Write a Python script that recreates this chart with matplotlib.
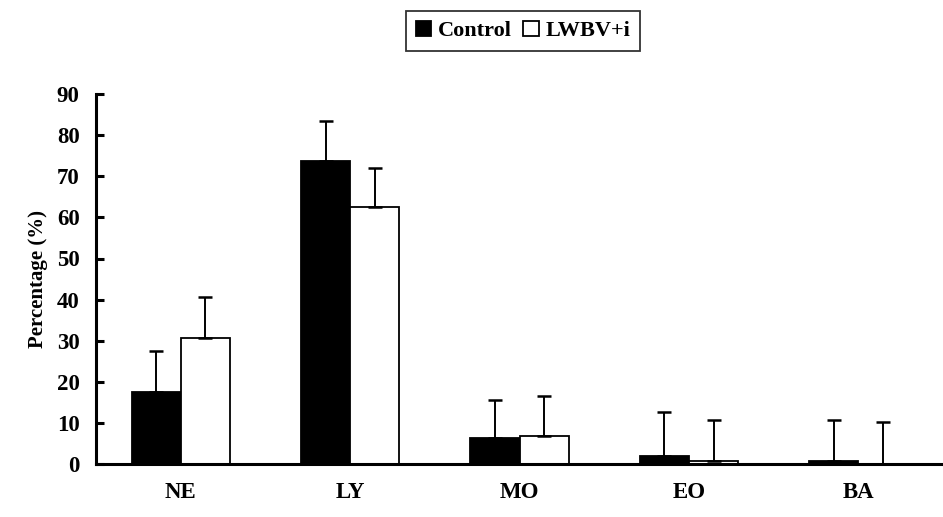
import numpy as np
import matplotlib
matplotlib.use("Agg")
import matplotlib.pyplot as plt

plt.rcParams['font.family'] = ['Liberation Serif', 'DejaVu Serif']
plt.rcParams['font.weight'] = 'bold'

categories = ['NE', 'LY', 'MO', 'EO', 'BA']
control = [17.5, 73.7, 6.3, 2.0, 0.8]
control_err = [10.0, 9.8, 9.3, 10.6, 9.9]
lwbv = [30.7, 62.5, 6.8, 0.8, 0.1]
lwbv_err = [9.9, 9.5, 9.7, 9.9, 10.1]
yticks = [0, 10, 20, 30, 40, 50, 60, 70, 80, 90]

fig = plt.figure(figsize=(9.43, 5.17), dpi=100)
ax = fig.add_axes([0.102, 0.1025, 0.898, 0.7155])

x = np.arange(len(categories))
w = 0.29
err_kw = dict(ecolor='black', elinewidth=1.4, capsize=5, capthick=1.8)
ax.bar(x - w/2, control, w, color='black', edgecolor='black', linewidth=1.3,
       yerr=[np.zeros(5), control_err], error_kw=err_kw, label='Control')
ax.bar(x + w/2, lwbv, w, color='white', edgecolor='black', linewidth=1.3,
       yerr=[np.zeros(5), lwbv_err], error_kw=err_kw, label='LWBV+i')

ax.set_xlim(-0.5, 4.5)
ax.set_ylim(0, 90)
ax.set_yticks(yticks)
ax.set_xticks(x)
ax.set_xticklabels(categories)

ax.spines['top'].set_visible(False)
ax.spines['right'].set_visible(False)
ax.spines['left'].set_linewidth(2.2)
ax.spines['bottom'].set_linewidth(2.2)
ax.tick_params(axis='y', direction='in', length=6, width=2.2, pad=12, labelsize=16.5)
ax.tick_params(axis='x', length=0, pad=13, labelsize=16.5)
for lab in ax.get_xticklabels() + ax.get_yticklabels():
    lab.set_fontweight('bold')

ax.set_ylabel('Percentage (%)', fontsize=15, fontweight='bold', labelpad=6)

leg = fig.legend(loc='center', bbox_to_anchor=(523/943, 1 - 31/517), ncol=2,
                 frameon=True, fancybox=False, edgecolor='black',
                 handlelength=0.7, handleheight=0.7, handletextpad=0.3,
                 columnspacing=0.5, borderpad=0.45, prop={'size': 16, 'weight': 'bold'})
leg.get_frame().set_linewidth(1.3)

fig.savefig('out.png', dpi=100)
